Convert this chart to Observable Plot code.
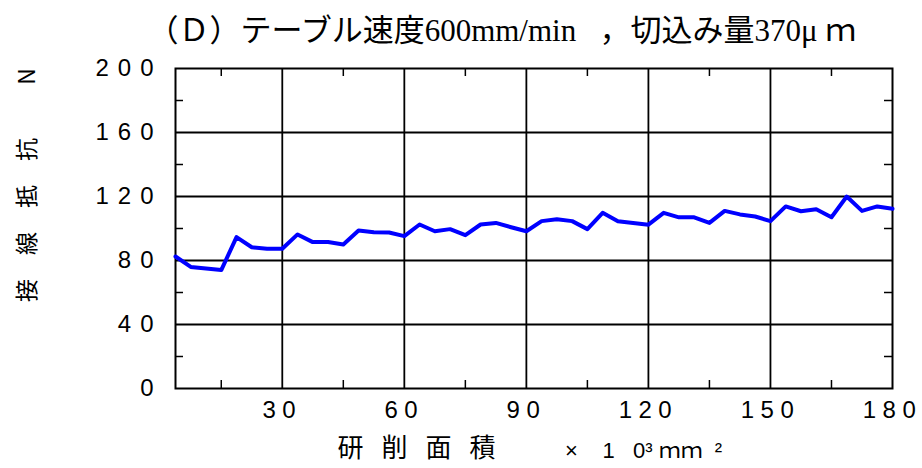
<!DOCTYPE html>
<html><head><meta charset="utf-8">
<script src="https://cdn.jsdelivr.net/npm/d3@7"></script>
<script src="https://cdn.jsdelivr.net/npm/@observablehq/plot@0.6"></script>
<style>
body{margin:0;background:#fff;}
svg g[aria-label="y-axis tick label"] text{letter-spacing:9px}
svg g[aria-label="x-axis tick label"] text{letter-spacing:6.5px}
</style></head><body><div id="chart"></div>
<script>
const area = [3.75, 7.5, 11.25, 15, 18.75, 22.5, 26.25, 30, 33.75, 37.5, 41.25, 45, 48.75, 52.5, 56.25, 60,
  63.75, 67.5, 71.25, 75, 78.75, 82.5, 86.25, 90, 93.75, 97.5, 101.25, 105, 108.75, 112.5, 116.25, 120,
  123.75, 127.5, 131.25, 135, 138.75, 142.5, 146.25, 150, 153.75, 157.5, 161.25, 165, 168.75, 172.5, 176.25, 180];
const force = [82.5, 76, 75, 74, 94.6, 88.3, 87.3, 87.3, 96.3, 91.5, 91.5, 90, 98.8, 97.7, 97.5, 95.2,
  102.5, 98.3, 99.6, 95.8, 102.5, 103.5, 100.8, 98.3, 104.6, 105.8, 104.6, 99.6, 109.8, 104.6, 103.5, 102.4,
  109.8, 107, 107, 103.5, 111, 108.8, 107.5, 104.6, 113.8, 110.8, 112, 107, 120, 111, 113.8, 112.3];
const xTicks = [30, 60, 90, 120, 150, 180];
const yTicks = [0, 40, 80, 120, 160, 200];
const xGrid = [30, 60, 90, 120, 150];
const yGrid = [40, 80, 120, 160];
const xMinor = [15, 45, 75, 105, 135, 165];
const yMinor = [20, 60, 100, 140, 180];
const title = "（Ｄ）テーブル速度600mm/min\u00a0\u00a0\u00a0，切込み量370μ\u00a0ｍ";
const yLabel = "接線抵抗 N";
const xLabel = "研削面積";
const xUnit = "×\u00a0\u00a0\u00a0\u00a01\u00a0\u00a0\u00a00³\u00a0ｍｍ\u00a0\u00a0²";

const rows = area.map((x, i) => ({x, y: force[i]}));
const black = "#000";
const svg = Plot.plot({
  width: 922, height: 468,
  marginLeft: 175, marginRight: 30, marginTop: 68, marginBottom: 80,
  style: {fontFamily: "'Liberation Sans','Noto Sans CJK JP',sans-serif", background: "#fff", color: "#000"},
  x: {domain: [3.75, 180]},
  y: {domain: [0, 200]},
  marks: [
    Plot.ruleX(xGrid, {x: d => d, stroke: black, strokeWidth: 1.8}),
    Plot.ruleY(yGrid, {y: d => d, stroke: black, strokeWidth: 1.8}),
    Plot.tickX(xMinor, {x: d => d, insetTop: 312, stroke: black, strokeWidth: 1.5}),
    Plot.tickX(xMinor, {x: d => d, insetBottom: 312, stroke: black, strokeWidth: 1.5}),
    Plot.tickY(yMinor, {y: d => d, insetRight: 709, stroke: black, strokeWidth: 1.5}),
    Plot.tickY(yMinor, {y: d => d, insetLeft: 709, stroke: black, strokeWidth: 1.5}),
    Plot.frame({stroke: black, strokeWidth: 2}),
    Plot.line(rows, {x: "x", y: "y", stroke: "#0000ff", strokeWidth: 4}),
    Plot.axisX({ticks: xTicks, tickSize: 0, tickPadding: 12, fontSize: 24, label: null}),
    Plot.axisY({ticks: yTicks, tickSize: 0, tickPadding: 13, fontSize: 24, label: null}),
    Plot.text([title], {text: d => d, frameAnchor: "top-left", textAnchor: "start", lineAnchor: "middle",
      dx: -28, dy: -37, fontSize: 31, fontFamily: "'Liberation Serif','Noto Sans CJK JP',serif"}),
    Plot.text([yLabel], {text: d => d, frameAnchor: "left", textAnchor: "start", lineAnchor: "middle",
      rotate: -90, dx: -148, dy: 73.5, fontSize: 23, fontFamily: "'Noto Sans CJK JP',sans-serif"}),
    Plot.text([xLabel], {text: d => d, frameAnchor: "bottom-left", textAnchor: "start", lineAnchor: "middle",
      dx: 162, dy: 60, fontSize: 26, fontFamily: "'Noto Sans CJK JP',sans-serif"}),
    Plot.text([xUnit], {text: d => d, frameAnchor: "bottom-left", textAnchor: "start", lineAnchor: "middle",
      dx: 389.6, dy: 62, fontSize: 22, fontFamily: "'Liberation Sans','Noto Sans CJK JP',sans-serif"})
  ]
});
d3.select(svg).selectAll("text").filter(function () { return this.textContent === yLabel; }).style("letter-spacing", "24px");
d3.select(svg).selectAll("text").filter(function () { return this.textContent === xLabel; }).style("letter-spacing", "18px");
document.getElementById("chart").appendChild(svg);
</script></body></html>
